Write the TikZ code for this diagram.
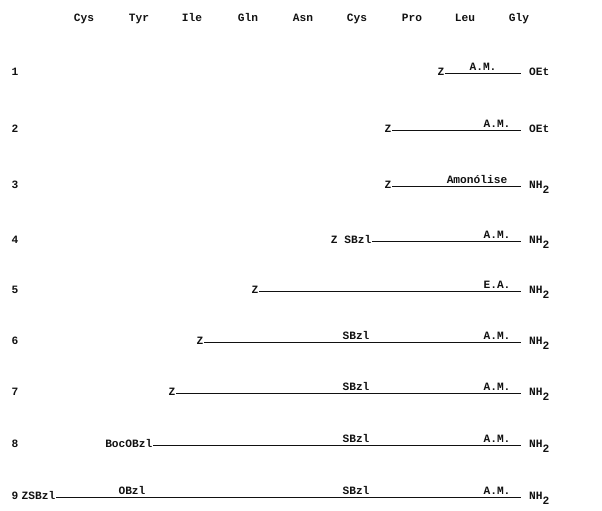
\documentclass[tikz,border=0pt]{standalone}
\usepackage{fontspec}
\setmonofont{Liberation Mono}
\usepackage{tikz}
\usepackage{xcolor}
\usetikzlibrary{positioning, calc}
\definecolor{mInk}{HTML}{111111}

\tikzset{
  tw/.style={font=\ttfamily\bfseries\fontsize{11.2}{13}\selectfont, text=mInk, inner sep=0.5pt, anchor=base},
  startlbl/.style={tw, anchor=base east},
  endlbl/.style={tw, anchor=base west, inner xsep=8pt},
  onlbl/.style={tw, anchor=base},
  chain/.style={draw=mInk, line width=0.8pt},
}
\newcommand{\nhtwo}{NH\raisebox{-5pt}{2}}

\begin{document}
\begin{tikzpicture}[x=1pt, y=-1pt]
  \useasboundingbox (0,0) rectangle (602,511);

  % residues
  \foreach \res/\px [count=\i] in {Cys/84, Tyr/139, Ile/192, Gln/248, Asn/303, Cys/357, Pro/412, Leu/465, Gly/519}
    \node[tw] (res\i) at (\px,22) {\res};

  % step numbers
  \foreach \py [count=\i] in {75, 132, 188, 243, 293, 344, 395, 447, 499}
    \node[tw, anchor=base west] (num\i) at (11,\py) {\i};

  % 1
  \node[startlbl] (s1) at (445,75) {Z};
  \node[endlbl] (e1) at (521,75) {OEt};
  \draw[chain] ([yshift=1.5pt]s1.base east) -- ([yshift=1.5pt]e1.base west);
  \node[onlbl] (m1) at (483,70.5) {A.M.};

  % 2
  \node[startlbl] (s2) at (392,132) {Z};
  \node[endlbl] (e2) at (521,132) {OEt};
  \draw[chain] ([yshift=1.5pt]s2.base east) -- ([yshift=1.5pt]e2.base west);
  \node[onlbl] (m2) at (497,127.5) {A.M.};

  % 3
  \node[startlbl] (s3) at (392,188) {Z};
  \node[endlbl] (e3) at (521,188) {\nhtwo};
  \draw[chain] ([yshift=1.5pt]s3.base east) -- ([yshift=1.5pt]e3.base west);
  \node[onlbl] (m3) at (477,183.5) {Amonólise};

  % 4
  \node[startlbl] (s4) at (372,243) {Z SBzl};
  \node[endlbl] (e4) at (521,243) {\nhtwo};
  \draw[chain] ([yshift=1.5pt]s4.base east) -- ([yshift=1.5pt]e4.base west);
  \node[onlbl] (m4) at (497,238.5) {A.M.};

  % 5
  \node[startlbl] (s5) at (259,293) {Z};
  \node[endlbl] (e5) at (521,293) {\nhtwo};
  \draw[chain] ([yshift=1.5pt]s5.base east) -- ([yshift=1.5pt]e5.base west);
  \node[onlbl] (m5) at (497,288.5) {E.A.};

  % 6
  \node[startlbl] (s6) at (204,344) {Z};
  \node[endlbl] (e6) at (521,344) {\nhtwo};
  \draw[chain] ([yshift=1.5pt]s6.base east) -- ([yshift=1.5pt]e6.base west);
  \node[onlbl] (c6) at (356,339.5) {SBzl};
  \node[onlbl] (m6) at (497,339.5) {A.M.};

  % 7
  \node[startlbl] (s7) at (176,395) {Z};
  \node[endlbl] (e7) at (521,395) {\nhtwo};
  \draw[chain] ([yshift=1.5pt]s7.base east) -- ([yshift=1.5pt]e7.base west);
  \node[onlbl] (c7) at (356,390.5) {SBzl};
  \node[onlbl] (m7) at (497,390.5) {A.M.};

  % 8
  \node[startlbl] (s8) at (153,447) {BocOBzl};
  \node[endlbl] (e8) at (521,447) {\nhtwo};
  \draw[chain] ([yshift=1.5pt]s8.base east) -- ([yshift=1.5pt]e8.base west);
  \node[onlbl] (c8) at (356,442.5) {SBzl};
  \node[onlbl] (m8) at (497,442.5) {A.M.};

  % 9
  \node[startlbl] (s9) at (56,499) {ZSBzl};
  \node[endlbl] (e9) at (521,499) {\nhtwo};
  \draw[chain] ([yshift=1.5pt]s9.base east) -- ([yshift=1.5pt]e9.base west);
  \node[onlbl] (t9) at (132,494.5) {OBzl};
  \node[onlbl] (c9) at (356,494.5) {SBzl};
  \node[onlbl] (m9) at (497,494.5) {A.M.};
\end{tikzpicture}
\end{document}
